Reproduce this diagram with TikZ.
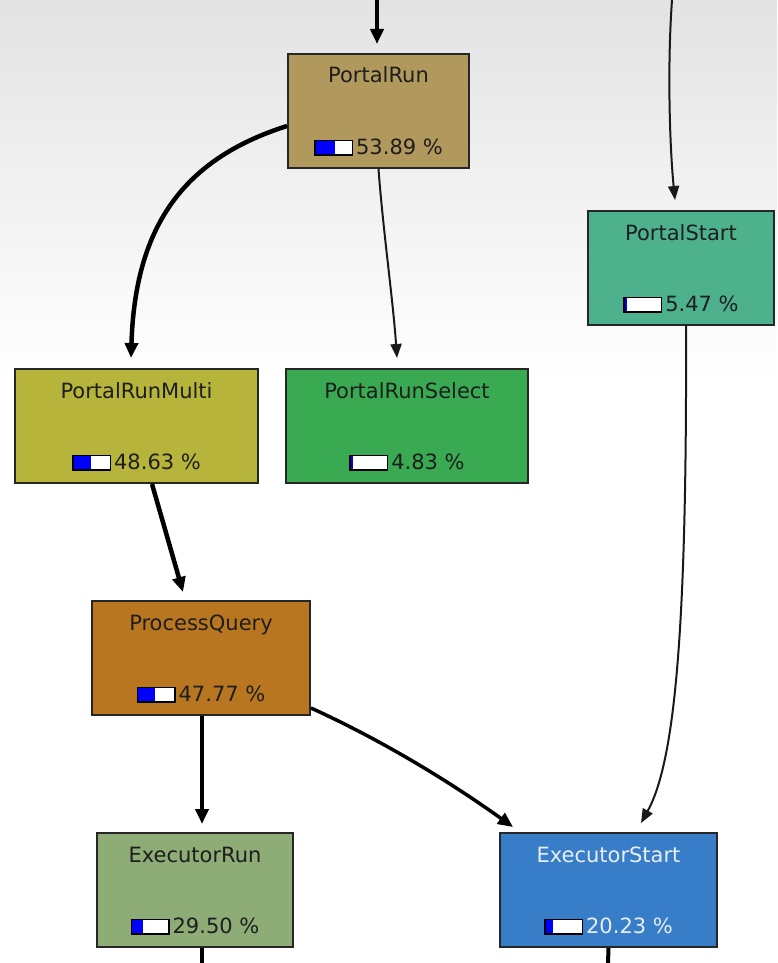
\documentclass[tikz,border=0pt]{standalone}
\usepackage{fontspec}
\setmainfont{DejaVu Sans}
\usetikzlibrary{arrows.meta}
\definecolor{cPR}{RGB}{177,153,94}
\definecolor{cPS}{RGB}{77,177,142}
\definecolor{cPM}{RGB}{182,180,58}
\definecolor{cSel}{RGB}{58,170,82}
\definecolor{cPQ}{RGB}{184,118,32}
\definecolor{cER}{RGB}{142,172,118}
\definecolor{cES}{RGB}{56,125,200}
\definecolor{txtdark}{RGB}{30,30,30}
\definecolor{txtlight}{RGB}{232,238,246}
\definecolor{bgtop}{RGB}{227,227,227}
\newcommand{\pgbar}[1]{{\setlength{\fboxsep}{0pt}\setlength{\fboxrule}{1.5pt}\fcolorbox{black}{white}{\textcolor{blue}{\rule{#1}{13pt}}\rule{0pt}{13pt}\hspace{\dimexpr36pt-#1\relax}}}}
\newcommand{\pgnode}[9]{%
  \node[box, fill=#5, minimum width=#4pt] (#1) at (#2,#3) {};
  \node[lbl, text=#6] (#1-t) at ([yshift=-30pt]#1.north) {#7};
  \node[lbl, text=#6] (#1-p) at ([yshift=15pt]#1.south) {\pgbar{#9}\hspace{3pt}#8 \%};
}
\tikzset{
  box/.style={draw=black!85, line width=2pt, minimum height=114pt, anchor=north, inner sep=0pt},
  lbl/.style={anchor=base, inner sep=0pt, font=\fontsize{21}{24}\selectfont},
  edge/.style={draw=black, line width=#1, -{Triangle[length=15pt,width=13pt]}},
  thinedge/.style={draw=black!90, line width=2pt, -{Triangle[length=14pt,width=11pt]}},
}
\begin{document}
\begin{tikzpicture}[x=1pt,y=-1pt]
\useasboundingbox (0,0) rectangle (777,963);
\fill[white] (0,0) rectangle (777,963);
\shade[top color=bgtop, bottom color=white] (0,0) rectangle (777,380);

\pgnode{PortalRun}{378.5}{53}{181}{cPR}{txtdark}{PortalRun}{53.89}{19.4pt}
\pgnode{PortalStart}{681}{210}{186}{cPS}{txtdark}{PortalStart}{5.47}{2pt}
\pgnode{PortalRunMulti}{136.5}{368}{243}{cPM}{txtdark}{PortalRunMulti}{48.63}{17.5pt}
\pgnode{PortalRunSelect}{407}{368}{242}{cSel}{txtdark}{PortalRunSelect}{4.83}{1.8pt}
\pgnode{ProcessQuery}{201}{600}{218}{cPQ}{txtdark}{ProcessQuery}{47.77}{17.2pt}
\pgnode{ExecutorRun}{195}{832}{196}{cER}{txtdark}{ExecutorRun}{29.50}{10.6pt}
\pgnode{ExecutorStart}{608.5}{832}{217}{cES}{txtlight}{ExecutorStart}{20.23}{7.3pt}

\coordinate (in1) at (377,0);
\coordinate (in2) at (672,0);
\coordinate (out1) at (202,963);
\coordinate (out2) at (608,963);

\draw[edge=4pt] (in1) -- ([xshift=-1.5pt,yshift=9pt]PortalRun.north);
\draw[thinedge] (in2) .. controls (667,70) and (670,150) .. ([xshift=-6pt,yshift=10pt]PortalStart.north);
\draw[edge=4.5pt] ([yshift=-15pt]PortalRun.west) .. controls (180,160) and (135,230) .. ([xshift=-5.5pt,yshift=10pt]PortalRunMulti.north);
\draw[thinedge] (PortalRun.south) .. controls (383,230) and (393,300) .. ([xshift=-10pt,yshift=10pt]PortalRunSelect.north);
\draw[edge=4.5pt] ([xshift=15.5pt]PortalRunMulti.south) -- ([xshift=-18pt,yshift=8pt]ProcessQuery.north);
\draw[edge=4.5pt] ([xshift=1pt]ProcessQuery.south) -- ([xshift=7pt,yshift=8pt]ExecutorRun.north);
\draw[edge=3.5pt] ([yshift=-50pt]ProcessQuery.east) .. controls (379,739) and (446,779) .. ([xshift=-95.5pt,yshift=5pt]ExecutorStart.north);
\draw[thinedge] ([xshift=5pt]PortalStart.south) .. controls (687,620) and (676,760) .. ([xshift=32.5pt,yshift=9pt]ExecutorStart.north);
\draw[line width=4pt] ([xshift=7pt]ExecutorRun.south) -- (out1);
\draw[line width=4pt] (ExecutorStart.south) -- (out2);
\end{tikzpicture}
\end{document}
